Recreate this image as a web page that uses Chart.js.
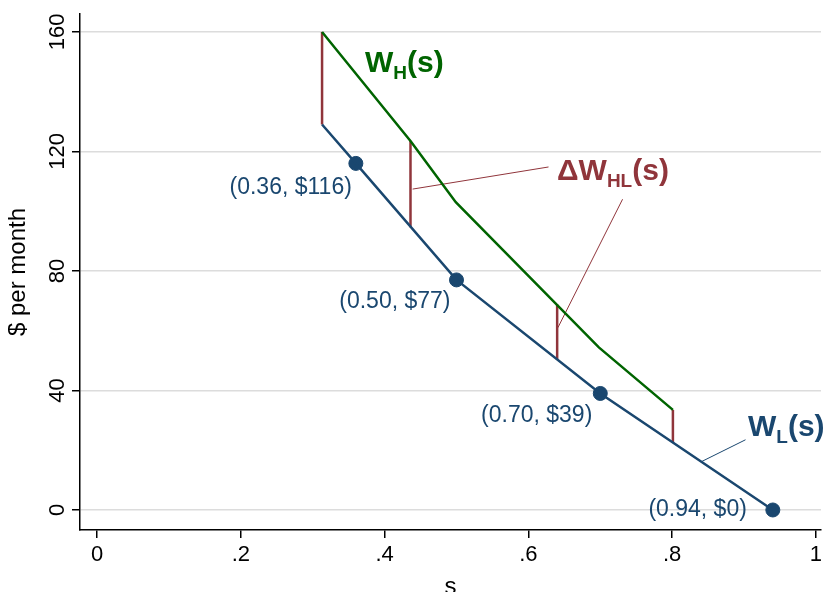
<!DOCTYPE html>
<html><head><meta charset="utf-8">
<script src="https://cdn.jsdelivr.net/npm/chart.js@4"></script>
<style>html,body{margin:0;background:#fff}#wrap{width:829px;height:592px}</style>
</head><body><div id="wrap"><canvas id="c"></canvas></div>
<script>
// data
const lowS = [0.313, 0.36, 0.50, 0.70, 0.94];
const lowW = [129, 116, 77, 39, 0];
const highS = [0.313, 0.436, 0.499, 0.698, 0.801];
const highW = [160, 123.5, 103, 54.4, 33.5];
const markS = [0.36, 0.50, 0.70, 0.94];
const markW = [116, 77, 39, 0];
const markLabels = ['(0.36, $116)', '(0.50, $77)', '(0.70, $39)', '(0.94, $0)'];
const gapS = [0.313, 0.436, 0.640, 0.801];
const gapLo = [129, 94.6, 50.3, 22.5];
const gapHi = [160, 123.5, 68.8, 33.5];
const yTicks = [0, 40, 80, 120, 160];
const xTicks = [0, 0.2, 0.4, 0.6, 0.8, 1];

const BLUE = '#1a476f', GREEN = '#006400', RED = '#90353b';
const FONT = '"Liberation Sans", Arial';
const xy = (xs, ys) => xs.map((x, i) => ({x, y: ys[i]}));

const datasets = [
  {data: xy(highS, highW), borderColor: GREEN, borderWidth: 2.5, pointRadius: 0, showLine: true},
  {data: xy(lowS, lowW), borderColor: BLUE, borderWidth: 2.5, pointRadius: 0, showLine: true},
  {data: xy(markS, markW), backgroundColor: BLUE, borderColor: BLUE, pointRadius: 7, showLine: false}
];
gapS.forEach((s, i) => datasets.push({data: [{x: s, y: gapLo[i]}, {x: s, y: gapHi[i]}],
  borderColor: RED, borderWidth: 2.5, pointRadius: 0, showLine: true}));
// pointer lines to labels
datasets.push({data: [{x: 0.439, y: 107.4}, {x: 0.628, y: 114.8}], borderColor: RED, borderWidth: 1, pointRadius: 0, showLine: true});
datasets.push({data: [{x: 0.641, y: 61}, {x: 0.731, y: 104}], borderColor: RED, borderWidth: 1, pointRadius: 0, showLine: true});
datasets.push({data: [{x: 0.84, y: 16.1}, {x: 0.902, y: 23.5}], borderColor: BLUE, borderWidth: 1, pointRadius: 0, showLine: true});

function sub(ctx, main, s, tail, x, y, color) {
  ctx.fillStyle = color;
  ctx.font = 'bold 30px ' + FONT;
  ctx.textAlign = 'left'; ctx.textBaseline = 'alphabetic';
  ctx.fillText(main, x, y);
  let w = ctx.measureText(main).width;
  ctx.font = 'bold 19px ' + FONT;
  ctx.fillText(s, x + w, y + 7);
  w += ctx.measureText(s).width;
  ctx.font = 'bold 30px ' + FONT;
  ctx.fillText(tail, x + w, y);
}

const labels = {
  id: 'labels',
  afterDraw(chart) {
    const {ctx, scales: {x, y}} = chart;
    ctx.save();
    ctx.fillStyle = '#000';
    ctx.font = '22px ' + FONT;
    ctx.textAlign = 'center'; ctx.textBaseline = 'middle';
    yTicks.forEach(v => {
      ctx.save();
      ctx.translate(x.left - 22, y.getPixelForValue(v));
      ctx.rotate(-Math.PI / 2);
      ctx.fillText(String(v), 0, 0);
      ctx.restore();
    });
    ctx.fillStyle = BLUE;
    ctx.font = '23px ' + FONT;
    ctx.textAlign = 'right';
    const offs = [[-4, 24], [-6, 22], [-8, 22], [-26, 0]];
    markLabels.forEach((t, i) => {
      ctx.fillText(t, x.getPixelForValue(markS[i]) + offs[i][0], y.getPixelForValue(markW[i]) + offs[i][1]);
    });
    sub(ctx, 'W', 'H', '(s)', 365, 72, GREEN);
    sub(ctx, 'ΔW', 'HL', '(s)', 557, 180, RED);
    sub(ctx, 'W', 'L', '(s)', 748, 436, BLUE);
    ctx.restore();
  }
};

new Chart(document.getElementById('c'), {
  type: 'scatter',
  data: {datasets},
  plugins: [labels],
  options: {
    responsive: true, maintainAspectRatio: false, animation: false,
    layout: {padding: {top: 14, right: 0, left: 0, bottom: 0}},
    plugins: {legend: {display: false}, tooltip: {enabled: false}},
    scales: {
      x: {
        min: -0.0237, max: 1.007,
        afterBuildTicks: s => { s.ticks = xTicks.map(v => ({value: v})); },
        afterFit: s => { s.height = 62; },
        ticks: {color: '#000', font: {size: 22, family: FONT},
          callback: v => v === 0 ? '0' : v === 1 ? '1' : String(+v.toFixed(1)).replace(/^0/, ''), maxRotation: 0, padding: 4},
        grid: {color: 'rgba(0,0,0,0)', drawTicks: true, tickLength: 8, tickColor: '#000', lineWidth: 1.5},
        border: {color: '#000', width: 1.5},
        title: {display: true, text: 's', color: '#000', font: {size: 24, family: FONT}, padding: {top: 0, bottom: -10}}
      },
      y: {
        min: -6.7, max: 166,
        afterBuildTicks: s => { s.ticks = yTicks.map(v => ({value: v})); },
        afterFit: s => { s.width = 80; },
        ticks: {callback: () => '', padding: 0},
        grid: {color: '#dcdcdc', lineWidth: 1.5, tickLength: 8, tickColor: '#000'},
        border: {color: '#000', width: 1.5},
        title: {display: true, text: '$ per month', color: '#000', font: {size: 24, family: FONT}, padding: {bottom: 0}}
      }
    }
  }
});
</script></body></html>
